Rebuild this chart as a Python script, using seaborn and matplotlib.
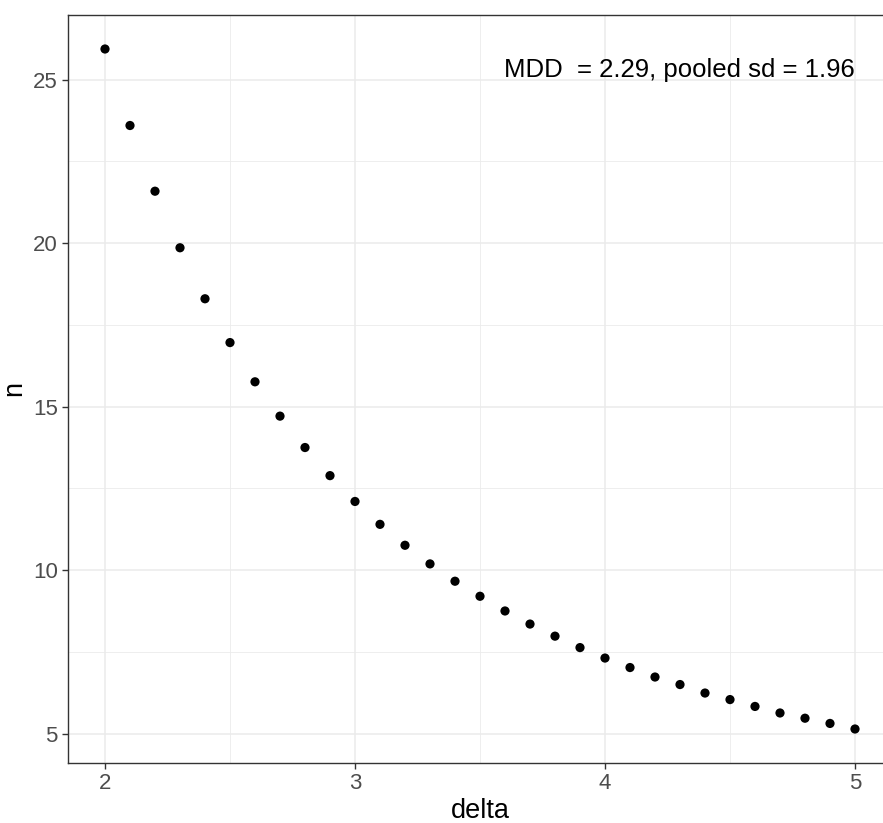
import matplotlib
matplotlib.use("Agg")
import matplotlib.pyplot as plt
import seaborn as sns
import pandas as pd
from matplotlib.ticker import MultipleLocator

# Required sample size per group for a range of detectable differences
delta = [2.0, 2.1, 2.2, 2.3, 2.4, 2.5, 2.6, 2.7, 2.8, 2.9,
         3.0, 3.1, 3.2, 3.3, 3.4, 3.5, 3.6, 3.7, 3.8, 3.9,
         4.0, 4.1, 4.2, 4.3, 4.4, 4.5, 4.6, 4.7, 4.8, 4.9, 5.0]
n = [25.94, 23.60, 21.59, 19.86, 18.30, 16.96, 15.76, 14.71, 13.75, 12.89,
     12.10, 11.40, 10.76, 10.19, 9.66, 9.20, 8.75, 8.35, 7.98, 7.63,
     7.31, 7.02, 6.73, 6.50, 6.24, 6.04, 5.83, 5.63, 5.47, 5.31, 5.14]
x_ticks = [2, 3, 4, 5]
y_ticks = [5, 10, 15, 20, 25]
label = "MDD  = 2.29, pooled sd = 1.96"

df = pd.DataFrame({"delta": delta, "n": n})

sns.set_theme(style="white")
plt.rcParams["font.family"] = ["Liberation Sans", "DejaVu Sans"]

W, H = 883, 823
fig = plt.figure(figsize=(W / 100, H / 100), dpi=100)
# panel runs past the right edge of the canvas
ax = fig.add_axes([67.5 / W, (H - 763) / H, (892.5 - 67.5) / W, (763 - 15) / H])

sns.scatterplot(data=df, x="delta", y="n", ax=ax, color="black", s=44,
                edgecolor="none", zorder=3)

# ggplot-style 5% expansion of the data range
xr = max(delta) - min(delta)
yr = max(n) - min(n)
ax.set_xlim(min(delta) - 0.05 * xr, max(delta) + 0.05 * xr)
ax.set_ylim(min(n) - 0.05 * yr, max(n) + 0.05 * yr)

ax.set_xticks(x_ticks)
ax.set_yticks(y_ticks)
ax.xaxis.set_minor_locator(MultipleLocator(0.5))
ax.yaxis.set_minor_locator(MultipleLocator(2.5))
ax.grid(which="major", color="#EBEBEB", linewidth=1.1, zorder=0)
ax.grid(which="minor", color="#EBEBEB", linewidth=0.6, zorder=0)
ax.set_axisbelow(True)

for sp in ax.spines.values():
    sp.set_visible(True)
    sp.set_color("#333333")
    sp.set_linewidth(1.0)

ax.tick_params(which="major", direction="out", length=4, width=1.0,
               color="#333333", labelcolor="#4D4D4D", labelsize=16, pad=3,
               bottom=True, left=True)
ax.tick_params(which="minor", length=0)

ax.set_xlabel("delta", fontsize=19.5, color="black", labelpad=3)
ax.set_ylabel("n", fontsize=19.5, color="black", labelpad=4)

ax.text(4.296, 25.09, label, ha="center", va="baseline", fontsize=18.5, color="black")

fig.savefig("out.png", dpi=100, facecolor="white")
